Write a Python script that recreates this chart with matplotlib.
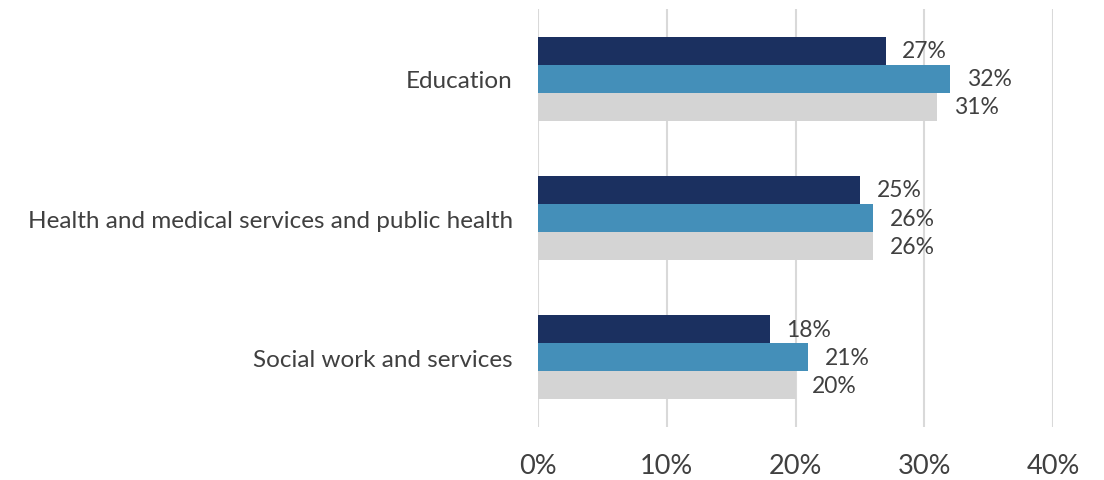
import matplotlib.pyplot as plt
import numpy as np

plt.rcParams['font.family'] = ['Lato', 'DejaVu Sans']

# data
categories = ['Education', 'Health and medical services and public health', 'Social work and services']
series_a = [27, 25, 18]
series_b = [32, 26, 21]
series_c = [31, 26, 20]
series_colors = ['#1b3060', '#448fb9', '#d4d4d4']
ticks = [0, 10, 20, 30, 40]

fig = plt.figure(figsize=(11.04, 4.81), dpi=100)
ax = fig.add_axes([538/1104, 1 - 428/481, (1053 - 538)/1104, 418/481])

y = np.arange(len(categories))
h = 0.201
txt = '#404040'
for k, (vals, col) in enumerate(zip([series_a, series_b, series_c], series_colors)):
    pos = y + (k - 1) * h
    ax.barh(pos, vals, height=h, color=col, zorder=3)
    for p, v in zip(pos, vals):
        ax.text(v + 1.3, p, f'{v}%', va='center', ha='left', fontsize=16.5, color=txt, zorder=4)

ax.set_ylim(2.5, -0.5)
ax.set_xlim(0, 40)
ax.set_xticks(ticks)
ax.set_xticklabels([f'{t}%' for t in ticks], fontsize=19.5, color=txt)
ax.set_yticks(y)
ax.set_yticklabels(categories, fontsize=17.5, color=txt)
ax.tick_params(axis='x', length=0, pad=19)
ax.tick_params(axis='y', length=0, pad=18)
ax.grid(axis='x', color='#d9d9d9', linewidth=1.5, zorder=0)
for s in ax.spines.values():
    s.set_visible(False)

fig.savefig('out.png', dpi=100)
